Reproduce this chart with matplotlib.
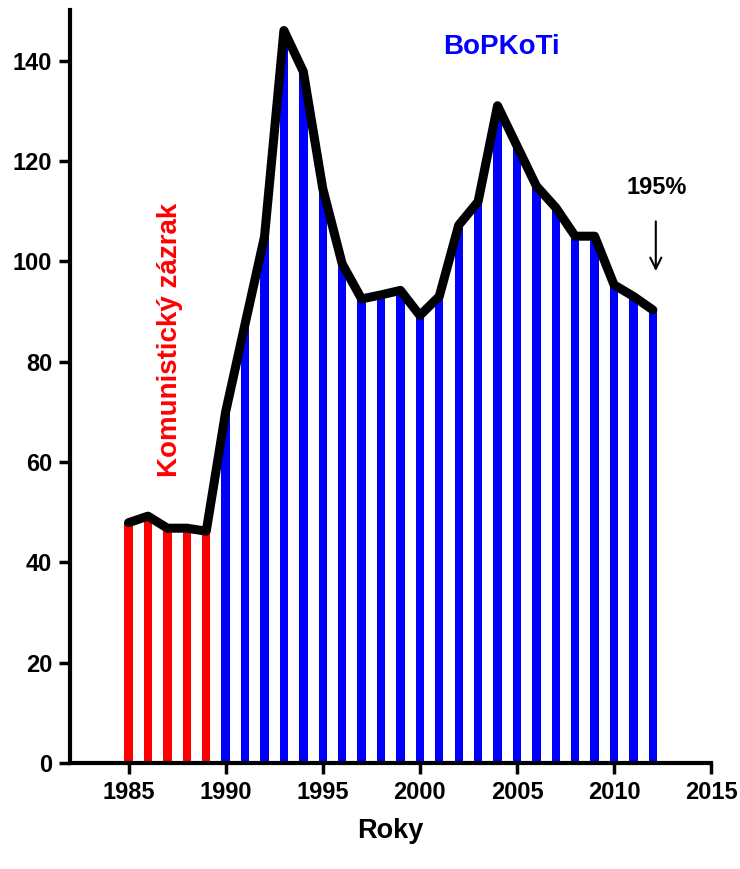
import numpy as np
import matplotlib
matplotlib.use("Agg")
import matplotlib.pyplot as plt
from matplotlib.path import Path

plt.rcParams['font.family'] = ['Liberation Sans', 'DejaVu Sans']
plt.rcParams['font.weight'] = 'bold'

# index values by year
years = np.arange(1985, 2013)
values = [47.9, 49.2, 46.8, 46.8, 46.2, 70.0, 87.5, 104.9, 146.0, 137.8,
          114.5, 99.5, 92.5, 93.3, 94.2, 89.2, 93.0, 107.2, 111.9, 131.0,
          123.0, 115.0, 110.7, 105.0, 105.0, 95.3, 93.0, 90.3]
communist_end = 1989  # red years up to this one, blue after

fig = plt.figure(figsize=(7.4, 8.69), dpi=100)
ax = fig.add_axes([0.095, 0.122, 0.866, 0.866])

colors = ['#ff0000' if y <= communist_end else '#0000ff' for y in years]
bars = ax.bar(years, values, width=0.43, color=colors, linewidth=0, zorder=2)

# clip the stripes so their tops follow the line
xs = np.concatenate([[years[0] - 0.5], years, [years[-1] + 0.5]])
ys = np.concatenate([[values[0]], values, [values[-1]]])
verts = [(xs[0], 0)] + list(zip(xs, ys)) + [(xs[-1], 0), (xs[0], 0)]
clip = Path(verts, closed=True)
for b in bars:
    b.set_clip_path(clip, ax.transData)

ax.plot(years, values, color='black', lw=6.5, solid_joinstyle='round',
        solid_capstyle='round', zorder=3)

ax.set_xlim(1982, 2015)
ax.set_ylim(0, 150)
ax.set_xticks(range(1985, 2016, 5))
ax.set_yticks(range(0, 141, 20))
for s in ['top', 'right']:
    ax.spines[s].set_visible(False)
for s in ['left', 'bottom']:
    ax.spines[s].set_linewidth(3)
ax.tick_params(width=2.5, length=8, labelsize=17, pad=5)
for lbl in ax.get_xticklabels() + ax.get_yticklabels():
    lbl.set_fontweight('bold')
ax.set_xlabel('Roky', fontsize=19.5, fontweight='bold', labelpad=10)

ax.text(1987.15, 84.4, 'Komunistický zázrak', color='#ff0000', fontsize=20,
        fontweight='bold', rotation=90, ha='center', va='center')
ax.text(2004.2, 142.8, 'BoPKoTi', color='#0000ff', fontsize=20,
        fontweight='bold', ha='center', va='center')
ax.text(2012.2, 114.7, '195%', color='black', fontsize=17,
        fontweight='bold', ha='center', va='center')
ax.annotate('', xy=(2012.15, 97.5), xytext=(2012.15, 108.5),
            arrowprops=dict(arrowstyle='->', color='black', lw=1.5,
                            mutation_scale=20))

fig.savefig('out.png', dpi=100)
